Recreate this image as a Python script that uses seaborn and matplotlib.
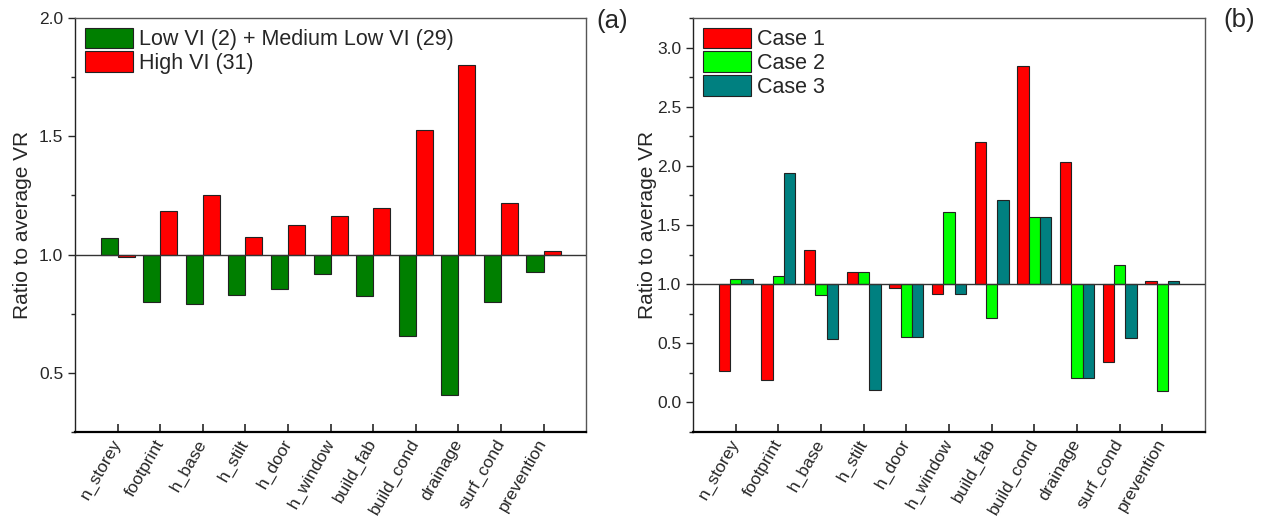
import numpy as np
import pandas as pd
import seaborn as sns
import matplotlib.pyplot as plt
from matplotlib.patches import Patch
from matplotlib.ticker import MultipleLocator

variables = ["n_storey", "footprint", "h_base", "h_stilt", "h_door", "h_window",
             "build_fab", "build_cond", "drainage", "surf_cond", "prevention"]

# panel (a)
low_med = [1.07, 0.80, 0.79, 0.83, 0.853, 0.919, 0.827, 0.654, 0.405, 0.80, 0.925]
high = [0.99, 1.183, 1.25, 1.074, 1.124, 1.163, 1.197, 1.526, 1.80, 1.22, 1.014]
labels_a = ["Low VI (2) + Medium Low VI (29)", "High VI (31)"]

# panel (b)
case1 = [0.262, 0.189, 1.285, 1.104, 0.969, 0.913, 2.205, 2.845, 2.03, 0.341, 1.028]
case2 = [1.042, 1.068, 0.907, 1.104, 0.555, 1.607, 0.715, 1.565, 0.203, 1.163, 0.101]
case3 = [1.042, 1.943, 0.535, 0.107, 0.555, 0.915, 1.709, 1.565, 0.203, 0.546, 1.028]
labels_b = ["Case 1", "Case 2", "Case 3"]

sns.set_style("ticks")
plt.rcParams["font.family"] = ["Liberation Sans", "DejaVu Sans"]


def long_table(series, names):
    rows = []
    for vals, name in zip(series, names):
        for v, val in zip(variables, vals):
            rows.append({"variable": v, "group": name, "ratio": val, "delta": val - 1.0})
    return pd.DataFrame(rows)


df_a = long_table([low_med, high], labels_a)
df_b = long_table([case1, case2, case3], labels_b)

fig = plt.figure(figsize=(12.7, 5.25), dpi=100)
ax1 = fig.add_axes([0.0591, 0.1771, 0.4024, 0.7886])
ax2 = fig.add_axes([0.5457, 0.1771, 0.4031, 0.7886])

EDGE = "#222222"


def draw(ax, df, names, palette, ylim, ylabel_x):
    # bars hang from the 1.0 reference line
    sns.barplot(data=df, x="variable", y="delta", hue="group", hue_order=names,
                palette=palette, width=0.8, bottom=1.0, edgecolor=EDGE, linewidth=0.8,
                saturation=1, ax=ax, legend=False)
    ax.axhline(1.0, color="#333333", lw=1.0, zorder=3)
    ax.set_xlim(-1, len(variables))
    ax.set_ylim(*ylim)
    ax.yaxis.set_major_locator(MultipleLocator(0.5))
    ax.yaxis.set_minor_locator(MultipleLocator(0.25))
    ax.tick_params(axis="y", which="major", direction="out", length=5, width=1, labelsize=12.5)
    ax.tick_params(axis="y", which="minor", direction="out", length=3, width=1)
    ax.tick_params(axis="x", direction="in", length=6, width=1.2, labelsize=12.5, pad=6)
    ax.set_xticks(range(len(variables)))
    ax.set_xticklabels(variables, rotation=60, ha="right", va="center",
                       rotation_mode="anchor")
    ax.set_xlabel("")
    ax.set_ylabel("Ratio to average VR", fontsize=15)
    ax.yaxis.set_label_coords(ylabel_x, 0.5)
    for side in ["top", "right", "left", "bottom"]:
        ax.spines[side].set_visible(True)
        ax.spines[side].set_linewidth(1.0)
    ax.spines["top"].set_color("#555555")
    ax.spines["right"].set_color("#555555")
    ax.spines["left"].set_color("#222222")
    ax.spines["bottom"].set_linewidth(1.6)
    ax.spines["bottom"].set_color("black")
    handles = [Patch(facecolor=c, edgecolor=EDGE, linewidth=0.8, label=n)
               for c, n in zip(palette, names)]
    ax.legend(handles=handles, loc="upper left", frameon=False, fontsize=15.5,
              handlelength=2.25, handleheight=1.1, labelspacing=0.05,
              handletextpad=0.25, borderaxespad=0.25, borderpad=0.2)


draw(ax1, df_a, labels_a, ["#007F00", "#FF0000"], (0.25, 2.0), -0.085)
draw(ax2, df_b, labels_b, ["#FF0000", "#00FF00", "#008080"], (-0.25, 3.25), -0.07)

fig.text(612 / 1270, 1 - 21 / 525, "(a)", fontsize=18.5, ha="center", va="center")
fig.text(1239 / 1270, 1 - 20 / 525, "(b)", fontsize=18.5, ha="center", va="center")

fig.savefig("out.png", dpi=100)
